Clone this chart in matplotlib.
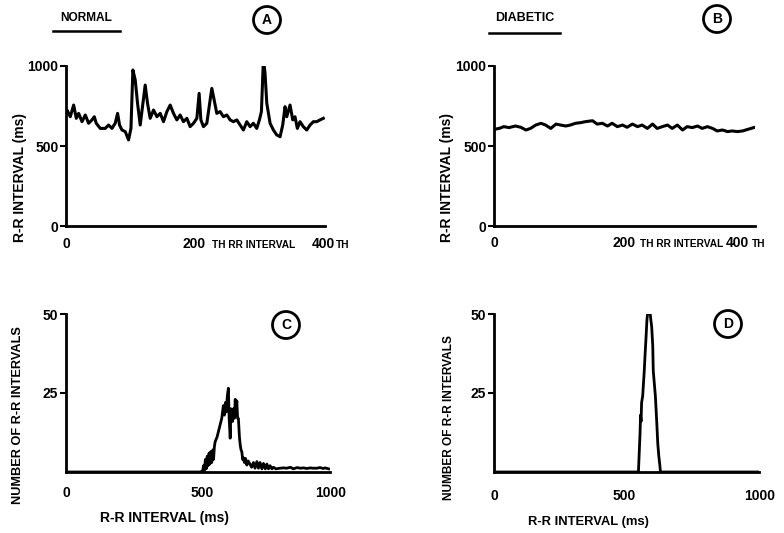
import matplotlib
matplotlib.use("Agg")
import matplotlib.pyplot as plt
from matplotlib.patches import Ellipse
from matplotlib.lines import Line2D

plt.rcParams['font.family'] = ['Liberation Sans', 'DejaVu Sans']
plt.rcParams['font.weight'] = 'bold'
FS = 10
FS_TH = 7.3

# --- data ---
# A: normal subject, R-R interval (ms) vs beat number
a_idx = [0, 1.5, 6.6, 11.8, 15.9, 19.5, 24.7, 29.8, 34.9, 40.1, 43.7, 46.7, 52.9, 60.6, 65.8, 71, 76, 79.7, 82.7, 86.4,
         91.5, 96.6, 100.3, 103.3, 106.9, 110.5, 114.6, 118.8, 122.3, 125.9, 130, 135.2, 140.4, 145.5, 150.6, 155.8,
         160.9, 166, 171.2, 176.3, 181.4, 186.7, 191.7, 196.9, 202.1, 205.6, 208.3, 212.3, 217.5, 222.6, 225.2, 228.8,
         232.9, 238, 243.1, 248.4, 253.5, 258.5, 263.8, 268.9, 274, 279.2, 284.3, 289.4, 294.6, 298.7, 301.8, 304.9,
         307.4, 310.1, 315.2, 320.3, 325.5, 330.6, 334.7, 338.3, 340.9, 346, 350.2, 353.7, 357.3, 361.4, 366.5, 371.8,
         376.9, 382, 387.2, 392.3, 397.4]
a_rr = [713, 725, 683, 756, 673, 704, 652, 694, 642, 663, 683, 642, 610, 610, 631, 610, 642, 704, 631, 600,
        590, 538, 610, 975, 913, 767, 631, 767, 881, 767, 673, 725, 683, 704, 652, 715,
        756, 704, 663, 694, 652, 673, 621, 642, 673, 829, 663, 621, 642, 788, 860, 788,
        704, 715, 683, 694, 663, 652, 663, 631, 600, 652, 621, 642, 610, 663, 715, 1045,
        954, 767, 642, 600, 569, 558, 631, 746, 683, 756, 663, 683, 610, 652, 621, 600,
        631, 652, 652, 663, 673]

# B: diabetic subject
b_idx = [0, 8, 15, 23, 33, 41, 49, 56, 64, 72, 79, 87, 95, 102, 110, 117, 125, 133, 140, 151,
         158, 166, 174, 181, 189, 197, 204, 212, 220, 227, 235, 243, 250, 258, 266, 273, 281, 289, 296, 304,
         312, 319, 327, 335, 342, 350, 358, 365, 373, 381, 389, 398]
b_rr = [604, 610, 621, 615, 625, 617, 600, 610, 631, 642, 631, 610, 637, 631, 625, 631, 642, 646, 652, 658,
        637, 642, 625, 642, 621, 631, 617, 637, 621, 631, 610, 637, 610, 621, 631, 610, 631, 600, 621, 615,
        625, 610, 621, 610, 594, 600, 590, 594, 590, 594, 604, 615]

# C: histogram, normal subject
c_ms = [0, 510, 518, 521, 524, 528, 531, 535, 538, 542, 545, 549, 552, 556, 559, 562, 565, 572, 578, 584,
        590, 596, 600, 604, 607, 611, 615, 618, 622, 625, 628, 631, 634, 638, 641, 644, 647, 650, 653, 657,
        660, 663, 666, 669, 672, 676, 680, 685, 690, 697, 703, 710, 716, 723, 729, 735, 742, 748, 755, 761,
        767, 773, 780, 786, 795, 811, 825, 836, 850, 861, 875, 887, 900, 912, 925, 937, 950, 962, 975, 981, 995]
c_n = [0, 0, 0.5, 2, 0.5, 4, 1, 5, 2, 6, 2.5, 6.5, 3, 7, 4, 8, 9.6, 11, 13, 15,
       17, 21, 18, 22, 19, 24, 26.5, 17, 10.7, 20, 19, 16, 20, 17, 23, 18, 22.5, 17, 17, 11,
       8.5, 7, 6.4, 4, 4.5, 3, 4.3, 2.2, 3.5, 2.5, 1.5, 3, 1.2, 3.3, 1.2, 3, 1, 2.7, 1, 2.5,
       1, 2, 1, 1.5, 1, 1.2, 1.3, 1.2, 1.5, 1, 1.4, 1.2, 1.3, 1.1, 1.3, 1.2, 1.2, 1.4, 1.1, 1.3, 1.0]

# D: histogram, diabetic subject
d_ms = [0, 545, 548, 551, 553, 555, 557, 561, 564, 567, 570, 574, 577, 580, 584, 589, 592, 595, 599, 601,
        605, 609, 614, 618, 622, 626, 628, 1000]
d_n = [0, 0, 6, 12, 18, 16, 22, 24, 28, 32, 37, 43, 48, 50.5, 51, 50.5, 48, 46, 40, 32,
       28, 24, 16, 9, 5, 2, 0, 0]

W, H = 784, 533
fig = plt.figure(figsize=(W / 100, H / 100), dpi=100)


def px_axes(x0, x1, ytop, ybot):
    return fig.add_axes([x0 / W, 1 - ybot / H, (x1 - x0) / W, (ybot - ytop) / H])


def style_axes(ax):
    for s in ['top', 'right']:
        ax.spines[s].set_visible(False)
    for s in ['left', 'bottom']:
        ax.spines[s].set_linewidth(2)
    ax.tick_params(axis='y', direction='out', length=4, width=1.5, pad=1.5, labelsize=FS)
    ax.tick_params(axis='x', length=0, labelbottom=False)


def xlabel_piece(ax, x, text, dx, dy, ha='center', size=FS):
    # text under the x axis, dx/dy in pixels from (x, axis line)
    ax.annotate(text, xy=(x, 0), xycoords=('data', 'axes fraction'),
                xytext=(dx, dy), textcoords='offset pixels',
                ha=ha, va='baseline', fontsize=size, fontweight='bold')


ax_a = px_axes(66, 325, 66, 226)
ax_b = px_axes(494, 755, 66, 226)
ax_c = px_axes(66, 330, 314, 472)
ax_d = px_axes(494, 759, 314, 472)

# top panels: R-R interval traces
for ax, idx, rr in [(ax_a, a_idx, a_rr), (ax_b, b_idx, b_rr)]:
    ax.plot(idx, rr, color='black', lw=2.2, solid_joinstyle='round')
    ax.set_xlim(0, 400)
    ax.set_ylim(0, 1000)
    ax.set_yticks([0, 500, 1000])
    style_axes(ax)

xlabel_piece(ax_a, 0, '0', 0, -22)
xlabel_piece(ax_a, 200, '200', -1, -22)
xlabel_piece(ax_a, 200, 'TH RR INTERVAL', 17, -22, ha='left', size=FS_TH)
xlabel_piece(ax_a, 400, '400', -2, -22)
xlabel_piece(ax_a, 400, 'TH', 11, -22, ha='left', size=FS_TH)
xlabel_piece(ax_b, 0, '0', 0, -21)
xlabel_piece(ax_b, 200, '200', 0, -21)
xlabel_piece(ax_b, 200, 'TH RR INTERVAL', 15, -21, ha='left', size=FS_TH)
xlabel_piece(ax_b, 400, '400', -18, -21)
xlabel_piece(ax_b, 400, 'TH', -3, -21, ha='left', size=FS_TH)

# bottom panels: histograms
for ax, ms, n in [(ax_c, c_ms, c_n), (ax_d, d_ms, d_n)]:
    ax.plot(ms, n, color='black', lw=2.0)
    ax.set_xlim(0, 1000)
    ax.set_ylim(0, 50)
    ax.set_yticks([25, 50])
    style_axes(ax)

xlabel_piece(ax_c, 0, '0', 0, -25)
xlabel_piece(ax_c, 500, '500', 4, -25)
xlabel_piece(ax_c, 1000, '1000', 1, -25)
xlabel_piece(ax_d, 0, '0', 0, -28)
xlabel_piece(ax_d, 500, '500', -2, -28)
xlabel_piece(ax_d, 1000, '1000', 1, -28)

# axis titles
fig.text(20 / W, 1 - 177 / H, 'R-R INTERVAL (ms)', rotation=90, ha='center', va='center', fontsize=FS)
fig.text(447 / W, 1 - 177 / H, 'R-R INTERVAL (ms)', rotation=90, ha='center', va='center', fontsize=FS)
fig.text(18 / W, 1 - 415 / H, 'NUMBER OF R-R INTERVALS', rotation=90, ha='center', va='center', fontsize=9.2)
fig.text(449 / W, 1 - 418 / H, 'NUMBER OF R-R INTERVALS', rotation=90, ha='center', va='center', fontsize=8.6)
fig.text(164 / W, 1 - 518 / H, 'R-R INTERVAL (ms)', ha='center', va='center', fontsize=FS)
fig.text(588 / W, 1 - 522 / H, 'R-R INTERVAL (ms)', ha='center', va='center', fontsize=9.4)

# group headings with underline
fig.text(86 / W, 1 - 18 / H, 'NORMAL', ha='center', va='center', fontsize=8.6)
fig.add_artist(Line2D([53 / W, 120 / W], [1 - 31 / H, 1 - 31 / H], color='black', lw=1.8))
fig.text(525 / W, 1 - 18 / H, 'DIABETIC', ha='center', va='center', fontsize=9)
fig.add_artist(Line2D([489 / W, 560 / W], [1 - 32.5 / H, 1 - 32.5 / H], color='black', lw=1.8))

# circled panel letters
for letter, cx, cy in [('A', 267, 20), ('B', 717, 19), ('C', 286, 325), ('D', 728, 324)]:
    fig.add_artist(Ellipse((cx / W, 1 - cy / H), 27 / W, 27 / H, transform=fig.transFigure,
                           fill=False, lw=2, edgecolor='black'))
    fig.text(cx / W, 1 - cy / H, letter, ha='center', va='center', fontsize=FS)

fig.savefig('out.png', dpi=100)
